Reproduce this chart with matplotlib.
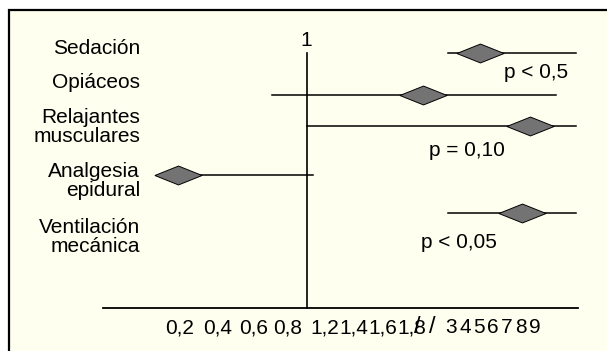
import numpy as np
import matplotlib
matplotlib.use("Agg")
import matplotlib.pyplot as plt
from matplotlib.patches import Rectangle
from matplotlib.scale import FuncScale

plt.rcParams['font.family'] = ['Liberation Sans', 'DejaVu Sans']

# odds ratios
categories = ['Sedación', 'Opiáceos', 'Relajantes\nmusculares',
              'Analgesia\nepidural', 'Ventilación\nmecánica']
estimate = [5.07, 2.15, 8.64, 0.19, 8.07]
lower = [2.91, 0.71, 1.0, 0.19, 2.91]
upper = [11.93, 10.5, 11.93, 1.07, 11.93]
p_labels = ['p < 0,5', None, 'p = 0,10', None, 'p < 0,05']

tick_vals = [0.2, 0.4, 0.6, 0.8, 1.2, 1.4, 1.6, 1.8, 3, 4, 5, 6, 7, 8, 9]
tick_labels = ['0,2', '0,4', '0,6', '0,8', '1,2', '1,4', '1,6', '1,8',
               '3', '4', '5', '6', '7', '8', '9']
break_vals = [1.99, 2.42]

# hand drawn, uneven axis of the original: value -> horizontal position
knot_vals = np.array([0.2, 0.4, 0.6, 0.8, 1.0, 1.2, 1.4, 1.6, 1.8,
                      3, 4, 5, 6, 7, 8, 9])
knot_pos = np.array([180, 217.5, 254, 287.5, 306.5, 324.5, 353.5, 382.5,
                     411.5, 451, 465, 479, 493, 507, 521, 535])


def piecewise(x, xs, ys):
    x = np.asarray(x, dtype=float)
    out = np.interp(x, xs, ys)
    lo_slope = (ys[1] - ys[0]) / (xs[1] - xs[0])
    hi_slope = (ys[-1] - ys[-2]) / (xs[-1] - xs[-2])
    out = np.where(x < xs[0], ys[0] + (x - xs[0]) * lo_slope, out)
    out = np.where(x > xs[-1], ys[-1] + (x - xs[-1]) * hi_slope, out)
    return out


def fwd(x):
    return piecewise(x, knot_vals, knot_pos)


def inv(p):
    return piecewise(p, knot_pos, knot_vals)


W, H = 607, 351
row_pos = [53.3, 95, 125.7, 175, 213.3]
label_pos = [48, 82, 127, 181, 237]
p_pos = [(504, 73), None, (429, 150), None, (421, 242)]


def px(x, y):
    return x / W, 1 - y / H


fig = plt.figure(figsize=(W / 100, H / 100), dpi=100)
fig.patch.set_facecolor('white')
x0, y0 = px(8.5, 400)
x1, y1 = px(700, 9.5)
fig.patches.append(Rectangle((x0, y0), x1 - x0, y1 - y0, transform=fig.transFigure,
                             facecolor='#fffff0', edgecolor='black',
                             linewidth=1.6, zorder=-5))

ax_left, ax_right, ax_top, ax_bot = 102.5, 578, 20, 308.3
ax = fig.add_axes([ax_left / W, 1 - ax_bot / H,
                   (ax_right - ax_left) / W, (ax_bot - ax_top) / H])
ax.set_facecolor('none')
ax.set_xscale(FuncScale(ax.xaxis, (fwd, inv)))
ax.set_xlim(float(inv(ax_left)), float(inv(ax_right)))
ax.set_ylim(ax_bot, ax_top)

for s in ['top', 'left', 'right']:
    ax.spines[s].set_visible(False)
ax.spines['bottom'].set_linewidth(1.3)
ax.set_yticks([])
ax.set_xticks(tick_vals, tick_labels)
ax.tick_params(axis='x', length=0, pad=7, labelsize=15)
ax.minorticks_off()

# reference line at 1
ax.plot([1, 1], [row_pos[0], ax_bot], color='black', lw=1.2, clip_on=False)
ax.text(1, 40, '1', ha='center', va='center', fontsize=15)

diamond = [(-1, 0), (0, 0.4), (1, 0), (0, -0.4), (-1, 0)]
for y, est, lo, hi in zip(row_pos, estimate, lower, upper):
    ax.plot([lo, hi], [y, y], color='black', lw=1.1, zorder=2)
    ax.plot(est, y, marker=diamond, markersize=34, color='#737373',
            markeredgecolor='black', markeredgewidth=0.7, zorder=3,
            clip_on=False)

for name, ly in zip(categories, label_pos):
    fig.text(*px(140, ly), name, ha='right', va='center', fontsize=15,
             linespacing=0.95)

for lab, pos in zip(p_labels, p_pos):
    if lab:
        fig.text(*px(*pos), lab, ha='left', va='center', fontsize=15)

# axis break mark between 1,8 and 3
break_y = (ax_bot - 327) / (ax_bot - ax_top)
for b in break_vals:
    ax.text(b, break_y, '/', transform=ax.get_xaxis_transform(), ha='center',
            va='center', fontsize=17, clip_on=False)

fig.savefig('out.png', dpi=100, facecolor=fig.get_facecolor())
